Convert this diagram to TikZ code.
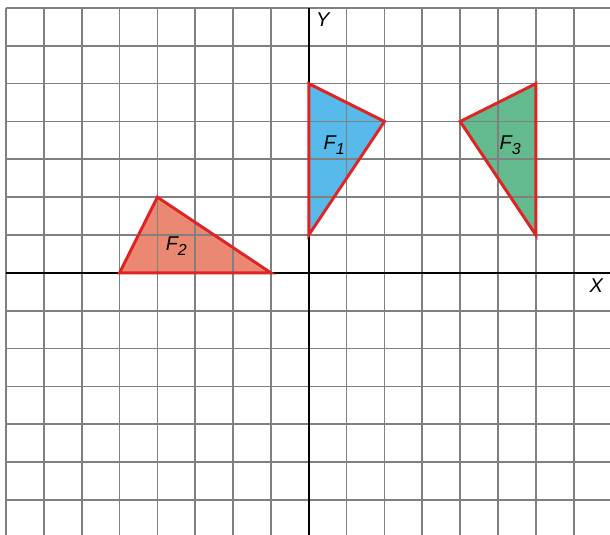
\documentclass[tikz,border=0pt]{standalone}
\usepackage{fontspec}
\setmainfont{Liberation Sans}
\usepackage{tikz}

\definecolor{gridgray}{RGB}{128,128,128}
\definecolor{edgered}{RGB}{222,36,36}
\definecolor{fblue}{RGB}{88,186,235}
\definecolor{fsalmon}{RGB}{234,136,114}
\definecolor{fgreen}{RGB}{98,186,142}

\newcommand{\fsub}[1]{\raisebox{-4pt}{\fontsize{12}{14}\selectfont #1}}

\begin{document}
\begin{tikzpicture}[x=1cm,y=1cm,
  gridline/.style={gridgray, line width=1.3pt},
  axis/.style={black, line width=1.5pt},
  fig/.style={edgered, line width=2.2pt, line join=miter},
  lbl/.style={font=\fontsize{15}{18}\selectfont\itshape, inner sep=0pt}]
\useasboundingbox (-8.16,-6.92) rectangle (7.96,7.21);
% fills first, grid shows through
\fill[fblue] (0,5) -- (2,4) -- (0,1) -- cycle;
\fill[fsalmon] (-5,0) -- (-4,2) -- (-1,0) -- cycle;
\fill[fgreen] (4,4) -- (6,5) -- (6,1) -- cycle;
\foreach \x in {-8,...,7}
  \draw[gridline] (\x,7) -- (\x,-6.92);
\foreach \y in {-6,...,7}
  \draw[gridline] (-8,\y) -- (7.96,\y);
\draw[axis] (-8,0) -- (7.96,0);
\draw[axis] (0,7) -- (0,-6.92);
\draw[fig] (0,5) -- (2,4) -- (0,1) -- cycle;
\draw[fig] (-5,0) -- (-4,2) -- (-1,0) -- cycle;
\draw[fig] (4,4) -- (6,5) -- (6,1) -- cycle;
\node[lbl] (f1) at (0.67,3.38) {F\fsub{1}};
\node[lbl] (f2) at (-3.5,0.7) {F\fsub{2}};
\node[lbl] (f3) at (5.32,3.38) {F\fsub{3}};
\node[lbl] (ylab) at (0.37,6.68) {Y};
\node[lbl] (xlab) at (7.6,-0.34) {X};
\end{tikzpicture}
\end{document}
